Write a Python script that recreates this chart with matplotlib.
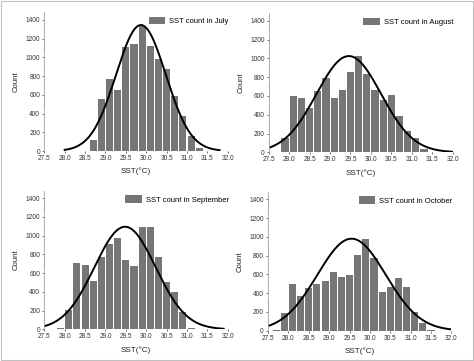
import numpy as np
import matplotlib.pyplot as plt
from matplotlib.patches import Rectangle

plt.rcParams['font.family'] = ['Liberation Sans', 'DejaVu Sans']

# bin centres (0.2 degC bins) and counts
jul_x = [28.7, 28.9, 29.1, 29.3, 29.5, 29.7, 29.9, 30.1, 30.3, 30.5, 30.7, 30.9, 31.1, 31.3]
jul_n = [115, 556, 766, 648, 1115, 1144, 1336, 1126, 980, 873, 591, 370, 160, 36]

aug_x = [27.9, 28.1, 28.3, 28.5, 28.7, 28.9, 29.1, 29.3, 29.5, 29.7, 29.9, 30.1, 30.3,
         30.5, 30.7, 30.9, 31.1, 31.3]
aug_n = [156, 599, 581, 471, 652, 794, 574, 663, 851, 1021, 833, 659, 557,
         610, 383, 227, 149, 35]

sep_x = [27.7, 27.9, 28.1, 28.3, 28.5, 28.7, 28.9, 29.1, 29.3, 29.5, 29.7, 29.9, 30.1,
         30.3, 30.5, 30.7, 30.9, 31.1, 31.3]
sep_n = [5, 18, 207, 712, 691, 520, 773, 916, 973, 741, 677, 1087, 1087,
         770, 510, 403, 189, 18, 7]

oct_x = [27.7, 27.9, 28.1, 28.3, 28.5, 28.7, 28.9, 29.1, 29.3, 29.5, 29.7, 29.9, 30.1,
         30.3, 30.5, 30.7, 30.9, 31.1, 31.3, 31.5]
oct_n = [5, 192, 497, 370, 451, 494, 526, 625, 569, 597, 810, 977, 775,
         416, 469, 558, 469, 195, 85, 8]

# fitted normal curves: amplitude, mean, sigma, x-range
jul_fit = (1345, 29.87, 0.61, 28.0, 31.8)
aug_fit = (1025, 29.46, 0.79, 27.5, 32.0)
sep_fit = (1095, 29.48, 0.75, 27.5, 31.9)
oct_fit = (980, 29.55, 0.84, 27.5, 32.0)

panels = [
    ("July", jul_x, jul_n, jul_fit, [0.0935, 0.5817, 0.387, 0.384]),
    ("August", aug_x, aug_n, aug_fit, [0.5669, 0.5781, 0.388, 0.385]),
    ("September", sep_x, sep_n, sep_fit, [0.0935, 0.0878, 0.387, 0.384]),
    ("October", oct_x, oct_n, oct_fit, [0.5654, 0.0839, 0.387, 0.385]),
]

fig = plt.figure(figsize=(4.74, 3.61), dpi=100)
fig.patches.append(Rectangle((0.002, 0.002), 0.996, 0.996, transform=fig.transFigure,
                             fill=False, edgecolor="#c0c0c0", lw=0.8))

for month, xs, ns, fit, pos in panels:
    ax = fig.add_axes(pos)
    ax.bar(xs, ns, width=0.175, color="#767676", label=f"SST count in {month}")
    a, mu, sd, x0, x1 = fit
    xc = np.linspace(x0, x1, 300)
    ax.plot(xc, a * np.exp(-(xc - mu) ** 2 / (2 * sd ** 2)), color="black", lw=1.4)

    ax.set_xlim(27.5, 32.0)
    ax.set_ylim(0, 1480)
    ax.set_xticks(np.arange(27.5, 32.01, 0.5))
    ax.set_xticklabels([f"{v:.1f}" for v in np.arange(27.5, 32.01, 0.5)])
    ax.set_yticks(range(0, 1401, 200))
    ax.set_yticks(range(100, 1401, 200), minor=True)
    ax.tick_params(axis="both", labelsize=4.7, colors="#333333", length=1.5, width=0.5, pad=1.5)
    ax.tick_params(axis="y", which="minor", length=1, width=0.5, colors="#999999")
    for s in ("top", "right", "bottom"):
        ax.spines[s].set_visible(False)
    ax.spines["left"].set_color("#a0a0a0")
    ax.spines["left"].set_linewidth(0.6)

    ax.set_ylabel("Count", fontsize=5.6, color="#222222", labelpad=4)
    ax.set_xlabel("SST(°C)", fontsize=5.8, color="#222222", labelpad=4)
    ax.legend(loc="upper right", bbox_to_anchor=(1.03, 1.0), frameon=False, fontsize=5.5,
              handlelength=2.2, handleheight=1.1, handletextpad=0.5, borderaxespad=0.2)

fig.savefig("out.png", dpi=100)
